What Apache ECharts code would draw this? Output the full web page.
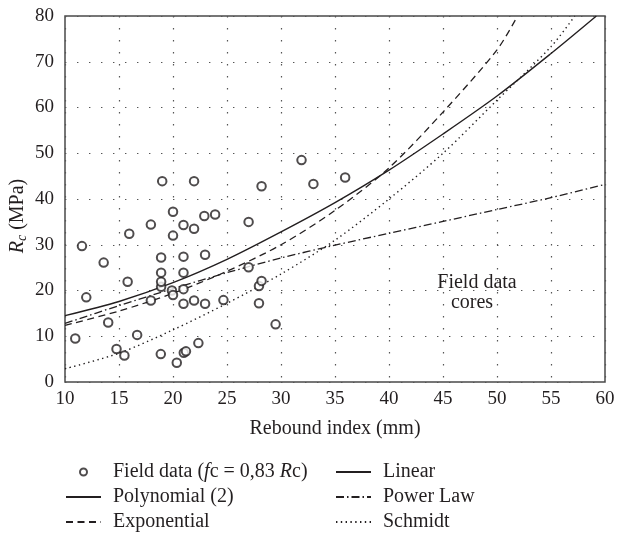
<!DOCTYPE html>
<html>
<head>
<meta charset="utf-8">
<script src="https://cdn.jsdelivr.net/npm/echarts@6/dist/echarts.min.js"></script>
<style>html,body{margin:0;padding:0;background:#fff}#c{width:617px;height:534px}</style>
</head>
<body>
<div id="c"></div>
<script>
// Field data (rebound index, Rc)
const fieldData = [
  [10.95, 9.5], [11.57, 29.7], [11.97, 18.5], [13.58, 26.1], [14.0, 13.0],
  [14.77, 7.2], [15.5, 5.8], [15.8, 21.9], [15.95, 32.4], [16.68, 10.3],
  [17.95, 17.8], [17.95, 34.4], [18.87, 6.1], [18.9, 20.8], [18.9, 21.9],
  [18.9, 23.9], [18.9, 27.2], [19.0, 43.9], [19.9, 20.0], [20.0, 19.0],
  [20.0, 32.0], [20.0, 37.2], [20.35, 4.2], [20.97, 17.1], [20.97, 20.3],
  [20.97, 23.9], [20.97, 27.4], [20.97, 34.3], [21.0, 6.4], [21.2, 6.7],
  [21.95, 17.8], [21.95, 33.5], [21.95, 43.9], [22.35, 8.5], [22.9, 36.3],
  [22.97, 17.1], [22.97, 27.8], [23.9, 36.6], [24.67, 17.9], [27.0, 25.1],
  [27.0, 35.0], [27.96, 17.2], [27.96, 21.0], [28.2, 22.1], [28.2, 42.8],
  [29.5, 12.6], [31.9, 48.5], [33.0, 43.3], [35.94, 44.7]
];
// Fitted curves
const polyX = [10, 15, 20, 25, 30, 35, 40, 45, 50, 55, 59.2];
const polyY = [14.5, 17.6, 21.7, 26.8, 32.8, 39.2, 46.3, 54.2, 62.5, 71.8, 80];
const expX = [10, 15, 20, 25, 30, 35, 40, 45, 50, 51.9];
const expY = [12.4, 15.5, 19.4, 24.2, 30.0, 37.5, 46.8, 59.0, 72.6, 80];
const powX = [10, 15, 20, 25, 30, 35, 40, 45, 50, 55, 60];
const powY = [12.8, 16.7, 20.4, 23.9, 27.1, 29.9, 32.5, 35.1, 37.7, 40.3, 43.2];
const schX = [10, 15, 20, 25, 30, 35, 40, 45, 50, 55, 57.2];
const schY = [2.9, 6.3, 11.4, 17.2, 23.6, 31.0, 40.0, 50.0, 61.6, 73.3, 80];
const xTicks = [10, 15, 20, 25, 30, 35, 40, 45, 50, 55, 60];
const yTicks = [0, 10, 20, 30, 40, 50, 60, 70, 80];

const zip = (xs, ys) => xs.map((x, i) => [x, ys[i]]);
const FONT = '"Liberation Serif", "DejaVu Serif", serif';
const INK = '#231f20';
const FIELD = 'Field data (fc = 0,83 Rc)';

const chart = echarts.init(document.getElementById('c'), null, {renderer: 'canvas'});
const lineBase = (name, data, type, width) => ({
  name, type: 'line', data, smooth: 0.3, symbol: 'circle', symbolSize: 0, showSymbol: false,
  clip: true, z: 3,
  lineStyle: {color: INK, width: width || 1.3, type: type},
  itemStyle: {color: 'rgba(0,0,0,0)', borderWidth: 0}
});
const legendText = {
  fontFamily: FONT, fontSize: 20, color: INK, lineHeight: 20, padding: [0, 0, 0, 7],
  rich: {
    n: {fontFamily: FONT, fontSize: 20, color: INK},
    i: {fontFamily: FONT, fontSize: 20, color: INK, fontStyle: 'italic'}
  }
};
const legendBase = {
  top: 462, height: 90, padding: 0, orient: 'vertical', itemWidth: 35, itemHeight: 7, itemGap: 5,
  selectedMode: false, textStyle: legendText
};
chart.setOption({
  animation: false,
  backgroundColor: '#fff',
  grid: {left: 65, right: 12, top: 16, bottom: 152, show: true, containLabel: false,
         outerBoundsMode: 'none',
         borderColor: '#4a4a4a', borderWidth: 1.5, backgroundColor: 'transparent'},
  xAxis: {
    type: 'value', min: xTicks[0], max: xTicks[xTicks.length - 1], interval: 5,
    name: 'Rebound index (mm)', nameLocation: 'middle', nameGap: 37, nameMoveOverlap: false,
    nameTextStyle: {fontFamily: FONT, fontSize: 20, color: INK},
    axisLine: {show: false}, axisTick: {show: false},
    axisLabel: {fontFamily: FONT, fontSize: 19, color: INK, margin: 8},
    splitLine: {show: true, lineStyle: {color: '#555', width: 1.2, type: [1.4, 10.6]}}
  },
  yAxis: {
    type: 'value', min: yTicks[0], max: yTicks[yTicks.length - 1], interval: 10,
    name: '{i|R}{s|c}{n| (MPa)}', nameLocation: 'middle', nameGap: 36, nameMoveOverlap: false,
    nameTextStyle: {
      fontFamily: FONT, fontSize: 20, color: INK, padding: [0, 34, 0, 0],
      rich: {
        i: {fontFamily: FONT, fontSize: 20, color: INK, fontStyle: 'italic', lineHeight: 22},
        s: {fontFamily: FONT, fontSize: 14, color: INK, fontStyle: 'italic', lineHeight: 14, verticalAlign: 'bottom'},
        n: {fontFamily: FONT, fontSize: 20, color: INK, lineHeight: 22}
      }
    },
    axisLine: {show: false}, axisTick: {show: false},
    axisLabel: {fontFamily: FONT, fontSize: 19, color: INK, margin: 11},
    splitLine: {show: true, lineStyle: {color: '#555', width: 1.2, type: [1.4, 10.6]}}
  },
  legend: [
    Object.assign({}, legendBase, {
      left: 65,
      data: [FIELD, 'Polynomial (2)', 'Exponential'],
      formatter: n => n === FIELD ? '{n|Field data (}{i|f}{n|c = 0,83 }{i|R}{n|c)}' : n
    }),
    Object.assign({}, legendBase, {
      left: 335,
      data: ['Linear', 'Power Law', 'Schmidt']
    })
  ],
  graphic: [
    {type: 'text', style: {text: 'Field data', x: 477, y: 283, textAlign: 'center', textVerticalAlign: 'middle', verticalAlign: 'middle', font: '20px ' + FONT, fill: INK}},
    {type: 'text', style: {text: 'cores', x: 472, y: 303, textAlign: 'center', textVerticalAlign: 'middle', verticalAlign: 'middle', font: '20px ' + FONT, fill: INK}}
  ],
  series: [
    {
      name: FIELD, type: 'scatter', data: fieldData, symbol: 'emptyCircle', symbolSize: 8.5, z: 4,
      itemStyle: {color: INK, borderWidth: 1.1}
    },
    lineBase('Linear', [], 'solid'),
    lineBase('Polynomial (2)', zip(polyX, polyY), 'solid', 1.4),
    lineBase('Power Law', zip(powX, powY), [8, 3, 1.5, 3], 1.3),
    lineBase('Exponential', zip(expX, expY), [7, 4.5], 1.3),
    lineBase('Schmidt', zip(schX, schY), [1.4, 3.4], 1.4)
  ]
});
</script>
</body>
</html>
